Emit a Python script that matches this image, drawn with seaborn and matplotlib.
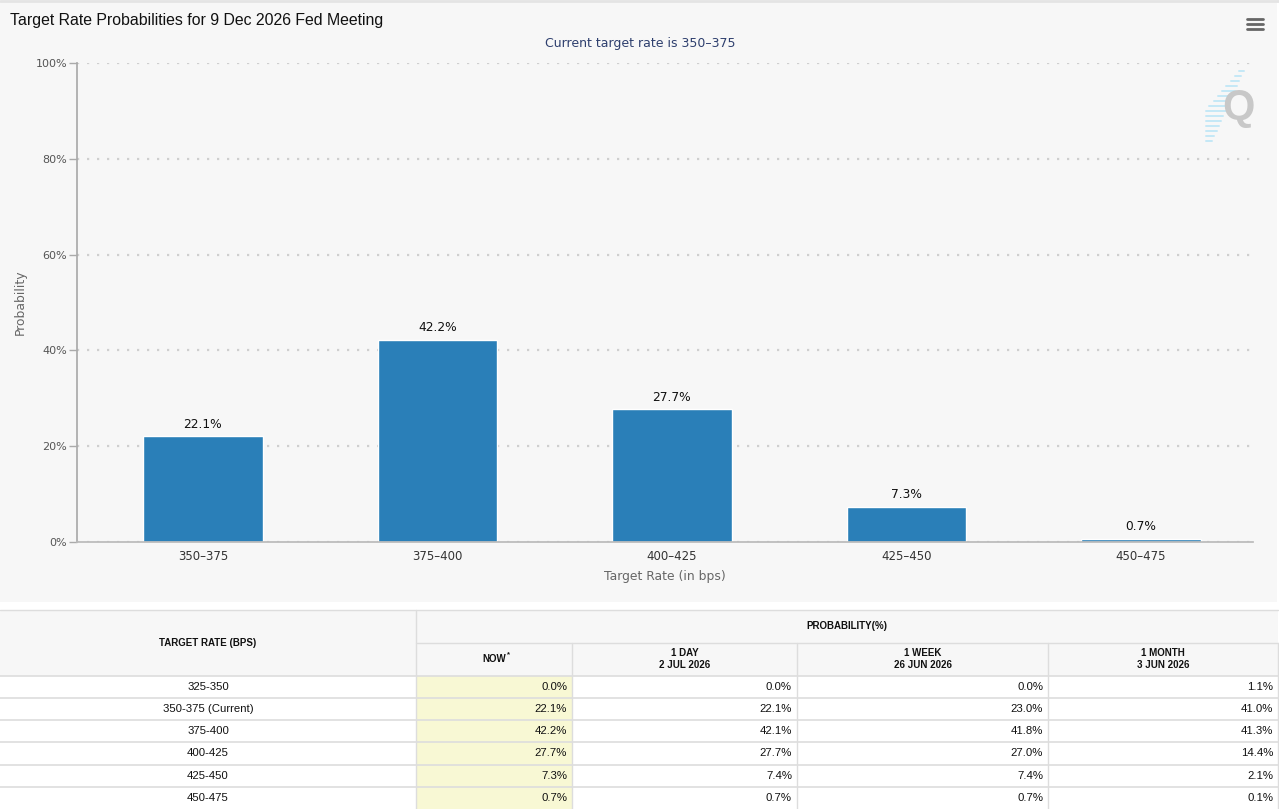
import matplotlib
matplotlib.use("Agg")
import matplotlib.pyplot as plt
import seaborn as sns
import pandas as pd
from matplotlib.patches import Rectangle

# chart data
rates = ["350\u2013375", "375\u2013400", "400\u2013425", "425\u2013450", "450\u2013475"]
probs = [22.1, 42.2, 27.7, 7.3, 0.7]

# table data
table_rates = ["325-350", "350-375 (Current)", "375-400", "400-425", "425-450", "450-475"]
now_vals = [0.0, 22.1, 42.2, 27.7, 7.3, 0.7]
day_vals = [0.0, 22.1, 42.1, 27.7, 7.4, 0.7]
week_vals = [0.0, 23.0, 41.8, 27.0, 7.4, 0.7]
month_vals = [1.1, 41.0, 41.3, 14.4, 2.1, 0.1]
col_heads = ["NOW", "1 DAY\n2 JUL 2026", "1 WEEK\n26 JUN 2026", "1 MONTH\n3 JUN 2026"]

W, H = 1279, 809
sns.set_theme(style="white")
plt.rcParams["font.family"] = ["DejaVu Sans"]

fig = plt.figure(figsize=(W / 100, H / 100), dpi=100)
fig.patch.set_facecolor("white")

# panel background behind the chart
bg = fig.add_axes([0, 1 - 602 / H, 1277 / W, 600 / H])
bg.set_facecolor("#f7f7f7")
bg.set_xticks([])
bg.set_yticks([])
for s in bg.spines.values():
    s.set_visible(False)
fig.add_artist(plt.Line2D([0, 1], [1 - 1 / H, 1 - 1 / H], color="#e4e4e4", linewidth=2))

ax = fig.add_axes([77 / W, 1 - 542 / H, 1176 / W, 479 / H])
ax.set_facecolor("#f7f7f7")
df = pd.DataFrame({"rate": rates, "prob": probs})
sns.barplot(data=df, x="rate", y="prob", color="#2a7fb8", saturation=1, width=0.51, ax=ax)
ax.set_xlim(-0.537, 4.478)
ax.set_ylim(0, 100)
ax.set_yticks(range(0, 101, 20))
ax.set_yticklabels([f"{v}%" for v in range(0, 101, 20)], color="#555555", fontsize=8)
ax.tick_params(axis="x", colors="#cccccc", labelcolor="#333333", labelsize=8.5, length=9, width=1, direction="out", pad=-3)
ax.tick_params(axis="y", colors="#aaaaaa", labelcolor="#555555", length=6, width=1, left=True, pad=1)
ax.yaxis.grid(True, linestyle=(0, (1, 3.5)), color="#cfcfcf", linewidth=1.6)
ax.set_axisbelow(True)
for s in ["top", "right"]:
    ax.spines[s].set_visible(False)
ax.spines["left"].set_color("#aaaaaa")
ax.spines["bottom"].set_color("#bbbbbb")
ax.set_xlabel("Target Rate (in bps)", color="#666666", fontsize=8.9, labelpad=5)
ax.set_ylabel("Probability", color="#666666", fontsize=8.9, labelpad=6.5)
for c in ax.containers:
    ax.bar_label(c, labels=[f"{v}%" for v in probs], padding=4, fontsize=8.8, color="#111111")

fig.text(10 / W, 1 - 20 / H, "Target Rate Probabilities for 9 Dec 2026 Fed Meeting",
         family="Liberation Sans", fontsize=11.4, color="#111111", va="center", ha="left")
fig.text(640 / W, 1 - 44 / H, "Current target rate is 350\u2013375",
         fontsize=9, color="#2e3f6e", va="center", ha="center")

# menu icon
for yy in [18.5, 23.5, 28.5]:
    fig.add_artist(plt.Line2D([1247 / W, 1263 / W], [1 - yy / H, 1 - yy / H], color="#666666", linewidth=2))
# watermark
for k in range(15):
    yy = 71 + k * 5
    xl = max(1206, 1240 - (yy - 70) * 0.85)
    xr = 1244 - (yy - 70) * 0.45
    fig.add_artist(plt.Line2D([xl / W, xr / W], [1 - yy / H, 1 - yy / H], color="#c4e8f6", linewidth=1.4))
fig.text(1238 / W, 1 - 108 / H, "Q", fontsize=30, fontweight="bold", color="#c8c8c8",
         ha="center", va="center", family="Liberation Sans")

# table
tax = fig.add_axes([0, 0, 1, 1 - 609 / H])
tax.set_xlim(0, W)
tax.set_ylim(809, 609)
tax.axis("off")
col_edges = [0, 416, 572, 797, 1048, 1278]
row_edges = [676, 698, 720, 742, 765, 787, 809]
border = "#dddddd"

tax.add_patch(Rectangle((0, 610), 1278, 66, facecolor="#f7f7f7", edgecolor="none"))
tax.add_patch(Rectangle((416, 676), 156, 133, facecolor="#f8f8d4", edgecolor="none"))
tax.plot([0, 1278], [610, 610], color=border, lw=1)
tax.plot([416, 1278], [643, 643], color=border, lw=1)
for y in row_edges[:-1]:
    tax.plot([0, 1278], [y, y], color=border, lw=1.2)
tax.plot([416, 416], [610, 809], color=border, lw=1)
for x in col_edges[2:]:
    tax.plot([x, x], [643, 809], color=border, lw=1)

tfont = dict(family="Liberation Sans", color="#111111")
tax.text(208, 643, "TARGET RATE (BPS)", ha="center", va="center", fontsize=7, fontweight="bold", **tfont)
tax.text(847, 626, "PROBABILITY(%)", ha="center", va="center", fontsize=7, fontweight="bold", **tfont)
for i, head in enumerate(col_heads):
    cx = (col_edges[i + 1] + col_edges[i + 2]) / 2
    tax.text(cx, 659, head, ha="center", va="center", fontsize=7, fontweight="bold", linespacing=1.25, **tfont)
tax.text(508, 655, "*", ha="center", va="center", fontsize=5.5, fontweight="bold", **tfont)

for r, name in enumerate(table_rates):
    cy = (row_edges[r] + row_edges[r + 1]) / 2
    tax.text(208, cy, name, ha="center", va="center", fontsize=8.2, **tfont)
    for i, vals in enumerate([now_vals, day_vals, week_vals, month_vals]):
        tax.text(col_edges[i + 2] - 5, cy, f"{vals[r]:.1f}%", ha="right", va="center", fontsize=8.2, **tfont)

fig.savefig("out.png", dpi=100, facecolor="white")
